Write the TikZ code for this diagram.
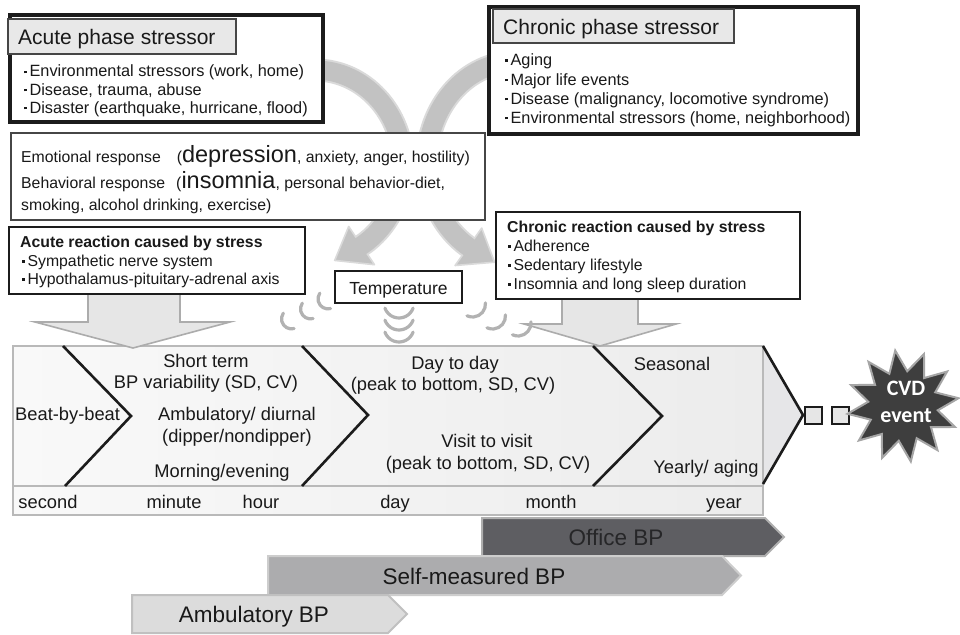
\documentclass[tikz,border=0pt]{standalone}
\usepackage{fontspec}
\setmainfont{Liberation Sans}
\newfontfamily\cvdfont{Carlito}
\usetikzlibrary{shapes.geometric}
\definecolor{bandc}{RGB}{194,194,194}
\definecolor{bandl}{RGB}{218,218,218}
\definecolor{ttlfill}{RGB}{232,232,232}
\definecolor{darkline}{RGB}{28,28,28}
\definecolor{boxline}{RGB}{70,70,70}
\definecolor{txt}{RGB}{25,25,25}
\definecolor{blkfill}{RGB}{230,230,230}
\definecolor{blkline}{RGB}{172,172,172}
\definecolor{tlleft}{RGB}{249,249,249}
\definecolor{tlright}{RGB}{236,236,236}
\definecolor{tlend}{RGB}{230,230,232}
\definecolor{tlline}{RGB}{185,185,185}
\definecolor{wavec}{RGB}{178,178,178}
\definecolor{officec}{RGB}{94,94,98}
\definecolor{officel}{RGB}{175,175,175}
\definecolor{officetxt}{RGB}{38,38,40}
\definecolor{selfc}{RGB}{172,172,174}
\definecolor{selfl}{RGB}{205,205,205}
\definecolor{ambc}{RGB}{220,220,220}
\definecolor{ambl}{RGB}{192,192,192}
\definecolor{starc}{RGB}{62,62,62}
\definecolor{starl}{RGB}{165,165,165}
\newcommand\fsz[1]{\fontsize{#1}{#1}\selectfont}
\newcommand\bul{\rule[0.22em]{2.8pt}{2.8pt}\hspace{2.6pt}}
\begin{document}
\begin{tikzpicture}[x=1pt,y=-1pt,
  outerbox/.style={draw=darkline,line width=3.2pt,fill=white,inner sep=0pt,outer sep=0pt,anchor=north west},
  titlebox/.style={draw=boxline,line width=1.2pt,fill=ttlfill,inner sep=0pt,outer sep=0pt,anchor=north west},
  plainbox/.style={draw=boxline,line width=1.2pt,fill=white,inner sep=0pt,outer sep=0pt,anchor=north west},
  lbl/.style={inner sep=0pt,text=txt,anchor=base west},
  clbl/.style={inner sep=0pt,text=txt,anchor=base},
  chev/.style={draw=darkline,line width=2.6pt},
  wave/.style={draw=wavec,line width=3.2pt,line cap=round},
  blockarrow/.style={fill=blkfill,draw=blkline,line width=1.6pt,line join=miter},
  bar/.style={line width=2pt,line join=miter},
  sq/.style={draw=darkline,fill=blkfill,line width=2pt,minimum size=17pt,inner sep=0pt},
  band/.style={line width=23pt,draw=bandl},
  bandin/.style={line width=19pt,draw=bandc},
  bandhead/.style={fill=bandc,draw=bandl,line width=1.6pt,line join=round},
]
\useasboundingbox (0,0) rectangle (960,634);
\fill[white] (0,0) rectangle (960,634);

% ---- curved arrows (behind the boxes)
\draw[band] (315,70) arc[start angle=-90,end angle=58,x radius=88,y radius=95];
\filldraw[bandhead] (374.5,264.7) -- (334.7,260.4) -- (348.7,226.5) -- cycle;
\draw[bandin] (315,70) arc[start angle=-90,end angle=58,x radius=88,y radius=95] -- (359.9,246.7);

\draw[band] (515,62) arc[start angle=270,end angle=122,x radius=88,y radius=100];
\filldraw[bandhead] (455.1,265.5) -- (494.5,262.2) -- (481.7,228.1) -- cycle;
\draw[bandin] (515,62) arc[start angle=270,end angle=122,x radius=88,y radius=100] -- (470.0,248.0);

% ---- acute phase stressor
\node[outerbox,minimum width=313pt,minimum height=107pt] (acutebox) at (10,15) {};
\node[titlebox,minimum width=228pt,minimum height=35pt] (acutettl) at (8,19) {};
\node[lbl,font=\fsz{21}] (acutettltxt) at (18,45) {Acute phase stressor};
\node[lbl,font=\fsz{16.3}] (ac1) at (24,77) {\bul Environmental stressors (work, home)};
\node[lbl,font=\fsz{16.3}] (ac2) at (24,95) {\bul Disease, trauma, abuse};
\node[lbl,font=\fsz{16.3}] (ac3) at (24,113) {\bul Disaster (earthquake, hurricane, flood)};

% ---- chronic phase stressor
\node[outerbox,minimum width=369pt,minimum height=127pt] (chronbox) at (489,7) {};
\node[titlebox,minimum width=241pt,minimum height=34pt] (chronttl) at (493,9) {};
\node[lbl,font=\fsz{21}] (chronttltxt) at (503,35) {Chronic phase stressor};
\node[lbl,font=\fsz{16.3}] (ch1) at (505,65.5) {\bul Aging};
\node[lbl,font=\fsz{16.3}] (ch2) at (505,85) {\bul Major life events};
\node[lbl,font=\fsz{16.3}] (ch3) at (505,104) {\bul Disease (malignancy, locomotive syndrome)};
\node[lbl,font=\fsz{16.3}] (ch4) at (505,123) {\bul Environmental stressors (home, neighborhood)};

% ---- response box
\node[plainbox,minimum width=474pt,minimum height=87pt] (resp) at (11,133) {};
\node[lbl,font=\fsz{15.8}] (r1) at (21,162.5) {Emotional response\hspace{16pt}(\fsz{23.5}depression\fsz{15.8}, anxiety, anger, hostility)};
\node[lbl,font=\fsz{15.8}] (r2) at (21,188.5) {Behavioral response\hspace{11pt}(\fsz{23.5}insomnia\fsz{15.8}, personal behavior-diet,};
\node[lbl,font=\fsz{15.8}] (r3) at (21,210.5) {smoking, alcohol drinking, exercise)};

% ---- timeline
\shade[left color=tlleft,right color=tlright] (13,346) rectangle (763,515);
\fill[tlend] (763,346) -- (803,415) -- (763,484) -- cycle;
\draw[tlline,line width=2pt] (13,346) rectangle (763,515);
\draw[tlline,line width=2pt] (13,486) -- (763,486);
\draw[chev] (63,346) -- (131,416) -- (65,486);
\draw[chev] (302,346) -- (368,415) -- (302,486);
\draw[chev] (593,346) -- (662,416) -- (593,486);
\draw[chev] (763,346) -- (803,415) -- (763,484);

\node[lbl,font=\fsz{18.3}] (beat) at (15,420.7) {Beat-by-beat};
\node[clbl,font=\fsz{18.3}] (short1) at (206,367) {Short term};
\node[clbl,font=\fsz{18.3}] (short2) at (206,388.5) {BP variability (SD, CV)};
\node[clbl,font=\fsz{18.3}] (amb1) at (237,420.7) {Ambulatory/ diurnal};
\node[clbl,font=\fsz{18.3}] (amb2) at (237,442.5) {(dipper/nondipper)};
\node[clbl,font=\fsz{18.3}] (morn) at (222,477) {Morning/evening};
\node[clbl,font=\fsz{18.3}] (day1) at (455,369) {Day to day};
\node[clbl,font=\fsz{18.3}] (day2) at (453,390) {(peak to bottom, SD, CV)};
\node[clbl,font=\fsz{18.3}] (vis1) at (487,447) {Visit to visit};
\node[clbl,font=\fsz{18.3}] (vis2) at (488,469) {(peak to bottom, SD, CV)};
\node[clbl,font=\fsz{18.3}] (seas) at (672,370.5) {Seasonal};
\node[clbl,font=\fsz{18.3}] (year1) at (706,473) {Yearly/ aging};

\node[clbl,font=\fsz{18.3}] (tsec) at (48,508) {second};
\node[clbl,font=\fsz{18.3}] (tmin) at (174,508) {minute};
\node[clbl,font=\fsz{18.3}] (thour) at (261,508) {hour};
\node[clbl,font=\fsz{18.3}] (tday) at (395,508) {day};
\node[clbl,font=\fsz{18.3}] (tmonth) at (551,508) {month};
\node[clbl,font=\fsz{18.3}] (tyear) at (724,508) {year};

% ---- block arrows down
\filldraw[blockarrow] (88,294) -- (180,294) -- (180,322) -- (230,322) -- (133,348) -- (35,322) -- (88,322) -- cycle;
\filldraw[blockarrow] (562,298) -- (638,298) -- (638,324) -- (676,324) -- (600,346) -- (524,324) -- (562,324) -- cycle;

% ---- reaction boxes
\node[plainbox,draw=darkline,minimum width=296pt,minimum height=67pt] (acreact) at (9,227) {};
\node[lbl,font=\fsz{15.8}\bfseries] (acr0) at (20,247) {Acute reaction caused by stress};
\node[lbl,font=\fsz{15.8}] (acr1) at (22,266) {\bul Sympathetic nerve system};
\node[lbl,font=\fsz{15.8}] (acr2) at (22,284) {\bul Hypothalamus-pituitary-adrenal axis};

\node[plainbox,draw=darkline,minimum width=304pt,minimum height=87pt] (chreact) at (496,212) {};
\node[lbl,font=\fsz{15.8}\bfseries] (chr0) at (507,232.5) {Chronic reaction caused by stress};
\node[lbl,font=\fsz{15.8}] (chr1) at (508,251) {\bul Adherence};
\node[lbl,font=\fsz{15.8}] (chr2) at (508,270) {\bul Sedentary lifestyle};
\node[lbl,font=\fsz{15.8}] (chr3) at (508,289) {\bul Insomnia and long sleep duration};

% ---- temperature
\node[plainbox,draw=darkline,minimum width=127pt,minimum height=32pt] (temp) at (335,271) {};
\node[clbl,font=\fsz{17.5}] (temptxt) at (398.5,294.3) {Temperature};

\draw[wave] (291.5,318.9) ++(75:10) arc[start angle=75,end angle=215,radius=10];
\draw[wave] (310.5,308.9) ++(75:10) arc[start angle=75,end angle=215,radius=10];
\draw[wave] (328,298.9) ++(75:10) arc[start angle=75,end angle=215,radius=10];
\draw[wave] (399,303) ++(20:15) arc[start angle=20,end angle=160,radius=15];
\draw[wave] (399,315) ++(20:15) arc[start angle=20,end angle=160,radius=15];
\draw[wave] (399,327) ++(20:15) arc[start angle=20,end angle=160,radius=15];
\draw[wave] (472.5,304) ++(-5:13) arc[start angle=-5,end angle=115,radius=13];
\draw[wave] (492.5,316) ++(-5:13) arc[start angle=-5,end angle=115,radius=13];
\draw[wave] (518,323) ++(-5:13) arc[start angle=-5,end angle=115,radius=13];

% ---- measurement bars
\filldraw[bar,fill=officec,draw=officel] (482,518) -- (765,518) -- (784,537) -- (765,556) -- (482,556) -- cycle;
\node[clbl,font=\fsz{22.5},text=officetxt] (office) at (616,545.5) {Office BP};
\filldraw[bar,fill=selfc,draw=selfl] (268,556) -- (722,556) -- (741,575.5) -- (722,595) -- (268,595) -- cycle;
\node[clbl,font=\fsz{22.5}] (selfbp) at (474,584) {Self-measured BP};
\filldraw[bar,fill=ambc,draw=ambl] (132,595) -- (388,595) -- (407,614) -- (388,633) -- (132,633) -- cycle;
\node[clbl,font=\fsz{22.5}] (ambbp) at (254,622.5) {Ambulatory BP};

% ---- CVD event
\node[sq] (sq1) at (813,415) {};
\node[sq] (sq2) at (840,415) {};
\node[star,star points=12,star point ratio=1.6,minimum size=112pt,inner sep=0pt,fill=starc,draw=starl,line width=2pt,rotate=8] (cvd) at (903,406) {};
\node[text=white,font=\cvdfont\bfseries\fontsize{22}{27}\selectfont,align=center,inner sep=0pt] (cvdtxt) at (906,402) {CVD\\event};
\end{tikzpicture}
\end{document}
